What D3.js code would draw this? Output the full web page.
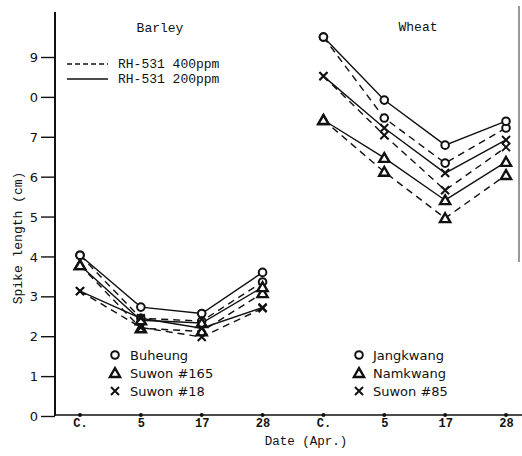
<!DOCTYPE html>
<html>
<head>
<meta charset="utf-8">
<script src="https://cdn.jsdelivr.net/npm/d3@7"></script>
<style>
  body { margin: 0; background: #fff; }
  svg { display: block; }
  .mono { font-family: "Liberation Mono", "DejaVu Sans Mono", monospace; }
  .sans { font-family: "DejaVu Sans", sans-serif; }
</style>
</head>
<body>
<div id="chart"></div>
<script>
// categories
const crops = ["Barley", "Wheat"];
const dates = ["C.", "5", "17", "28"];
const yTicks = [0, 1, 2, 3, 4, 5, 6, 7, 8, 9];
const yTickLabels = ["0", "1", "2", "3", "4", "5", "6", "7", "0", "9"]; // as printed
const treatments = ["RH-531 400ppm", "RH-531 200ppm"];
const barleyVarieties = ["Buheung", "Suwon #165", "Suwon #18"];
const wheatVarieties = ["Jangkwang", "Namkwang", "Suwon #85"];

// barley, spike length (cm)
const buheung400 = [4.03, 2.45, 2.38, 3.36];
const buheung200 = [4.03, 2.73, 2.57, 3.60];
const suwon165_400 = [3.78, 2.20, 2.12, 3.08];
const suwon165_200 = [3.78, 2.40, 2.33, 3.23];
const suwon18_400 = [3.13, 2.22, 1.98, 2.70];
const suwon18_200 = [3.13, 2.45, 2.20, 2.72];

// wheat, spike length (cm)
const jangkwang400 = [9.50, 7.47, 6.34, 7.22];
const jangkwang200 = [9.50, 7.92, 6.79, 7.39];
const namkwang400 = [7.42, 6.12, 4.96, 6.04];
const namkwang200 = [7.42, 6.47, 5.41, 6.37];
const suwon85_400 = [8.52, 7.04, 5.66, 6.74];
const suwon85_200 = [8.52, 7.22, 6.09, 6.92];

const series = [
  { crop: "Barley", shape: "circle", dash: true, values: buheung400 },
  { crop: "Barley", shape: "circle", dash: false, values: buheung200 },
  { crop: "Barley", shape: "triangle", dash: true, values: suwon165_400 },
  { crop: "Barley", shape: "triangle", dash: false, values: suwon165_200 },
  { crop: "Barley", shape: "cross", dash: true, values: suwon18_400 },
  { crop: "Barley", shape: "cross", dash: false, values: suwon18_200 },
  { crop: "Wheat", shape: "circle", dash: true, values: jangkwang400 },
  { crop: "Wheat", shape: "circle", dash: false, values: jangkwang200 },
  { crop: "Wheat", shape: "triangle", dash: true, values: namkwang400 },
  { crop: "Wheat", shape: "triangle", dash: false, values: namkwang200 },
  { crop: "Wheat", shape: "cross", dash: true, values: suwon85_400 },
  { crop: "Wheat", shape: "cross", dash: false, values: suwon85_200 }
];

const W = 522, H = 456;
const ink = "#111";

const svg = d3.select("#chart").append("svg")
  .attr("width", W).attr("height", H);

const keys = [];
crops.forEach(c => dates.forEach(d => keys.push(c + "|" + d)));

const x = d3.scalePoint().domain(keys).range([80, 506]);
const y = d3.scaleLinear().domain([0, 9]).range([416, 57]);

// y axis
const yAxis = svg.append("g")
  .attr("transform", "translate(55,0)")
  .call(d3.axisLeft(y).tickValues(yTicks).tickSize(14)
    .tickFormat((d, i) => yTickLabels[i]));
yAxis.select(".domain").remove();
yAxis.selectAll("line").attr("stroke", ink).attr("stroke-width", 1.4);
yAxis.selectAll("text").attr("font-size", 13)
  .attr("fill", ink).attr("x", -17).attr("dy", "0.35em")
  .attr("font-family", "DejaVu Sans, sans-serif");
svg.append("line").attr("x1", 55).attr("x2", 55).attr("y1", 12).attr("y2", 416)
  .attr("stroke", ink).attr("stroke-width", 2);

// x axis
const xAxis = svg.append("g")
  .attr("transform", "translate(0,415)")
  .call(d3.axisBottom(x).tickSize(0).tickFormat(k => k.split("|")[1]));
xAxis.select(".domain").remove();
xAxis.selectAll("text").attr("font-size", 12).attr("fill", ink)
  .attr("y", 12).attr("dy", 0).attr("font-family", "Liberation Mono, monospace")
  .attr("font-weight", "bold");
svg.append("line").attr("x1", 55).attr("x2", 522).attr("y1", 415).attr("y2", 415)
  .attr("stroke", ink).attr("stroke-width", 1.6);
svg.append("g").selectAll("circle").data(keys).join("circle")
  .attr("cx", k => x(k)).attr("cy", 415).attr("r", 2).attr("fill", ink);

// right border remnant of the page
svg.append("line").attr("x1", 519).attr("x2", 519).attr("y1", 6).attr("y2", 262)
  .attr("stroke", "#555").attr("stroke-width", 1.2);

// axis titles
svg.append("text").attr("class", "mono").attr("x", 306).attr("y", 445)
  .attr("text-anchor", "middle").attr("font-size", 12.5).attr("fill", ink)
  .text("Date (Apr.)");
svg.append("text").attr("class", "mono")
  .attr("transform", "translate(22,238) rotate(-90)")
  .attr("text-anchor", "middle").attr("font-size", 13).attr("fill", ink)
  .text("Spike length (cm)");

// panel titles
svg.append("text").attr("class", "mono").attr("x", 160).attr("y", 32)
  .attr("text-anchor", "middle").attr("font-size", 13).attr("fill", ink).text(crops[0]);
svg.append("text").attr("class", "mono").attr("x", 418).attr("y", 31)
  .attr("text-anchor", "middle").attr("font-size", 13).attr("fill", ink).text(crops[1]);

// lines
const line = d3.line().x(d => x(d.k)).y(d => y(d.v));
series.forEach(s => {
  const pts = s.values.map((v, i) => ({ k: s.crop + "|" + dates[i], v: v }));
  svg.append("path").datum(pts)
    .attr("d", line).attr("fill", "none").attr("stroke", ink)
    .attr("stroke-width", 1.4)
    .attr("stroke-dasharray", s.dash ? "7,5" : null);
  s.pts = pts;
});

// markers
function marker(g, shape, cx, cy) {
  if (shape === "circle") {
    g.append("circle").attr("cx", cx).attr("cy", cy).attr("r", 3.8)
      .attr("fill", "#fff").attr("stroke", ink).attr("stroke-width", 2);
  } else if (shape === "triangle") {
    g.append("path").attr("d", d3.symbol(d3.symbolTriangle, 45)())
      .attr("transform", `translate(${cx},${cy + 1})`)
      .attr("fill", "#fff").attr("stroke", ink).attr("stroke-width", 2.4);
  } else {
    g.append("path").attr("d", `M${cx - 4},${cy - 4}L${cx + 4},${cy + 4}M${cx - 4},${cy + 4}L${cx + 4},${cy - 4}`)
      .attr("stroke", ink).attr("stroke-width", 2);
  }
}
const mg = svg.append("g");
series.forEach(s => s.pts.forEach(p => marker(mg, s.shape, x(p.k), y(p.v))));

// treatment legend
const lg = svg.append("g");
treatments.forEach((t, i) => {
  const yy = 64 + i * 15;
  lg.append("line").attr("x1", 67).attr("x2", 108).attr("y1", yy).attr("y2", yy)
    .attr("stroke", ink).attr("stroke-width", 1.4)
    .attr("stroke-dasharray", i === 0 ? "5,3" : null);
  lg.append("text").attr("class", "mono").attr("x", 118).attr("y", yy + 4)
    .attr("font-size", 13).attr("fill", ink).text(t);
});

// variety legends
const shapes = ["circle", "triangle", "cross"];
function varietyLegend(names, mx, tx) {
  names.forEach((n, i) => {
    const yy = 355 + i * 18;
    marker(svg, shapes[i], mx, yy);
    svg.append("text").attr("class", "sans").attr("x", tx).attr("y", yy + 5)
      .attr("font-size", 13).attr("fill", ink).text(n);
  });
}
varietyLegend(barleyVarieties, 115, 130);
varietyLegend(wheatVarieties, 359, 373);
</script>
</body>
</html>
